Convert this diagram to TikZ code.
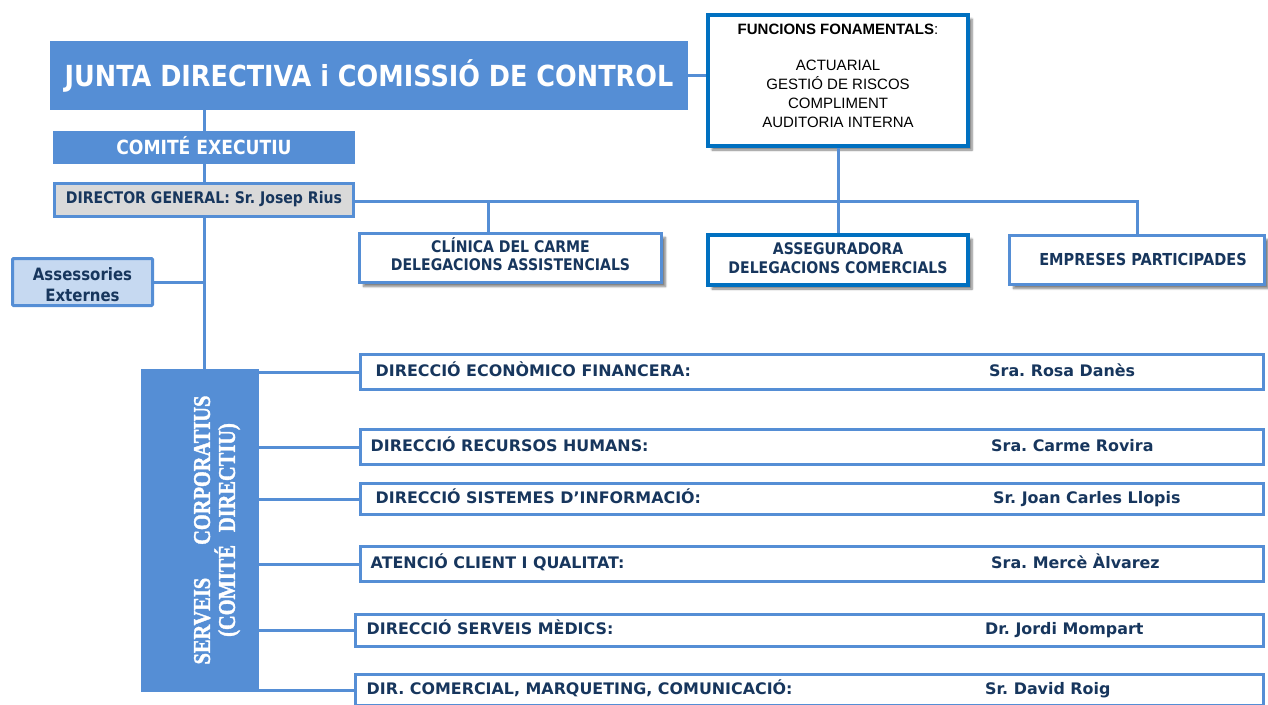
\documentclass[tikz,border=0pt]{standalone}
\usepackage{fontspec}
\setmainfont{Liberation Sans}
\newfontfamily\verd{DejaVu Sans}
\newfontfamily\tah[FakeStretch=0.88]{DejaVu Sans}
\newfontfamily\camb[FakeStretch=0.85, BoldFont={Liberation Serif Bold}, BoldFeatures={FakeBold=1.5}]{Liberation Serif}
\usepackage{xcolor}
\usetikzlibrary{shadows.blur}
\definecolor{blauorg}{RGB}{85,142,213}
\definecolor{blaufosc}{RGB}{0,112,192}
\definecolor{navy}{RGB}{23,54,93}
\definecolor{grisdir}{RGB}{217,217,217}
\definecolor{blauclar}{RGB}{198,217,241}
\frenchspacing

\begin{document}
\begin{tikzpicture}[
    x=1pt, y=-1pt,
    fillbox/.style={fill=blauorg, text=white, inner sep=0pt},
    graybox/.style={draw=blauorg, line width=3pt, fill=grisdir, text=navy, inner sep=0pt},
    filial/.style={draw=blauorg, line width=3pt, fill=white, inner sep=0pt,
        blur shadow={shadow xshift=4pt, shadow yshift=-4pt, shadow blur steps=6, shadow opacity=50}},
    filialfosc/.style={filial, draw=blaufosc, line width=4pt},
    filtxt/.style={text=navy, align=center, inner sep=0pt},
    dirbox/.style={draw=blauorg, line width=3pt, inner sep=0pt},
    rowtxt/.style={text=navy, inner sep=0pt, text height=11pt, text depth=3pt,
        font=\verd\bfseries\fontsize{15.9}{15.9}\selectfont},
    link/.style={draw=blauorg, line width=3pt}
]
    \useasboundingbox (0,0) rectangle (1268,704);

    % Top of the chart
    \node[fillbox, minimum width=638pt, minimum height=69pt, text height=21pt, text depth=0pt,
        font=\tah\bfseries\fontsize{29}{29}\selectfont] (junta) at (369,75.5)
        {JUNTA DIRECTIVA i COMISSIÓ DE CONTROL};
    \node[fillbox, minimum width=302pt, minimum height=33pt, text height=14pt, text depth=0pt,
        font=\tah\bfseries\fontsize{19.5}{19.5}\selectfont] (comite) at (204,147.5)
        {COMITÉ EXECUTIU};
    \node[graybox, minimum width=299pt, minimum height=33pt,
        font=\tah\bfseries\fontsize{16}{16}\selectfont] (dg) at (204,199.5)
        {DIRECTOR GENERAL: Sr. Josep Rius};
    \node[graybox, fill=blauclar, rounded corners=1pt, minimum width=140pt, minimum height=47pt] (asse) at (82.5,282) {};
    \node[filtxt, font=\tah\bfseries\fontsize{17}{21}\selectfont] (assetxt) at ([yshift=-3pt]asse.center)
        {Assessories\\Externes};

    % Functions box
    \node[filialfosc, minimum width=260pt, minimum height=131pt] (func) at (838,80.5) {};
    \node[anchor=north, align=center, inner sep=0pt, font=\fontsize{15}{19}\selectfont]
        (functxt) at ([yshift=-10.5pt]func.north)
        {{\bfseries FUNCIONS FONAMENTALS}:\\[17pt]ACTUARIAL\\GESTIÓ DE RISCOS\\COMPLIMENT\\AUDITORIA INTERNA};

    % Companies
    \node[filial, minimum width=302pt, minimum height=49pt] (clin) at (510.5,258) {};
    \node[filtxt, font=\tah\bfseries\fontsize{16}{18}\selectfont] (clintxt) at ([yshift=4pt]clin.center)
        {CLÍNICA DEL CARME\\DELEGACIONS ASSISTENCIALS};
    \node[filialfosc, minimum width=260pt, minimum height=50pt] (aseg) at (838,260) {};
    \node[filtxt, font=\tah\bfseries\fontsize{16}{19}\selectfont] (asegtxt) at ([yshift=2pt]aseg.center)
        {ASSEGURADORA\\DELEGACIONS COMERCIALS};
    \node[filial, minimum width=255pt, minimum height=49pt] (emp) at (1137,260) {};
    \node[filtxt, font=\tah\bfseries\fontsize{16.5}{18}\selectfont] (emptxt) at ([xshift=6pt, yshift=1pt]emp.center)
        {EMPRESES PARTICIPADES};

    % Corporate services
    \node[fillbox, minimum width=118pt, minimum height=323pt] (serv) at (200,530.5) {};
    \node[rotate=90, text=white, align=center, inner sep=0pt,
        font=\camb\bfseries\fontsize{24}{25}\selectfont] (servtxt) at (217,530)
        {SERVEIS\hspace{33pt}CORPORATIUS\\(COMITÉ\hspace{13pt}DIRECTIU)};

    % Connections
    \draw[link] (comite.north) -- (comite.north |- junta.south);
    \draw[link] (comite.south) -- (dg.north);
    \draw[link] (dg.south) -- (dg.south |- serv.north);
    \draw[link] (asse.east) -- (asse.east -| dg.south);
    \draw[link] (junta.east) -- (junta.east -| func.west);
    \draw[link] ([yshift=-2pt]dg.east) -- ([yshift=-2pt]dg.east -| emp.north) -- (emp.north);
    \draw[link] ([xshift=-22pt]clin.north) -- ([xshift=-22pt, yshift=-2pt]clin.north |- dg.east);
    \draw[link] (func.south) -- (aseg.north);

    % Directions
    \foreach \i/\yc/\xl/\hb/\dx/\xn/\lab/\nom in {
        1/372/357/35/17/989/{DIRECCIÓ ECONÒMICO FINANCERA:}/{Sra. Rosa Danès},
        2/447/357/35/12/991/{DIRECCIÓ RECURSOS HUMANS:}/{Sra. Carme Rovira},
        3/499/357/31/17/993/{DIRECCIÓ SISTEMES D’INFORMACIÓ:}/{Sr. Joan Carles Llopis},
        4/564/357/35/12/991/{ATENCIÓ CLIENT I QUALITAT:}/{Sra. Mercè Àlvarez},
        5/630.5/352/32/13/985/{DIRECCIÓ SERVEIS MÈDICS:}/{Dr. Jordi Mompart},
        6/690/352/31/13/985/{DIR. COMERCIAL, MARQUETING, COMUNICACIÓ:}/{Sr. David Roig}} {
        \node[dirbox, anchor=west, minimum width={1260-\xl}, minimum height=\hb] (d\i) at (\xl+1.5,\yc) {};
        \node[rowtxt, anchor=west] (l\i) at ([xshift=\dx pt]d\i.west) {\lab};
        \node[rowtxt, anchor=west] (n\i) at (\xn,\yc) {\nom};
        \draw[link] (serv.east |- d\i.west) -- (d\i.west);
    }

\end{tikzpicture}
\end{document}
